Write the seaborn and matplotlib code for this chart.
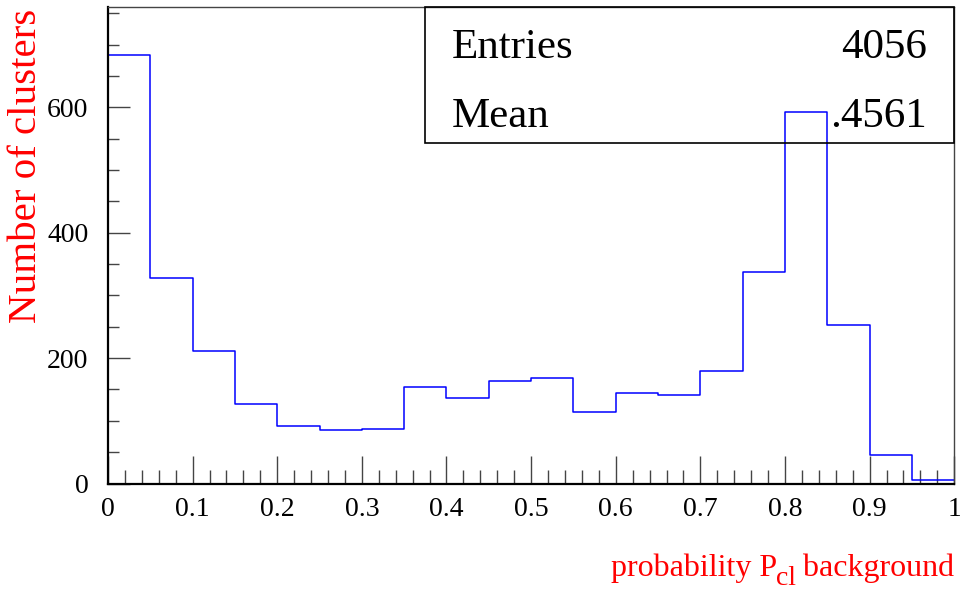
import numpy as np
import pandas as pd
import matplotlib
matplotlib.use("Agg")
import matplotlib.pyplot as plt
from matplotlib.ticker import MultipleLocator
import seaborn as sns

# Histogram of cluster background probability: 20 bins on [0, 1]
bin_edges = [round(0.05 * i, 2) for i in range(21)]
counts = [683, 328, 212, 127, 91, 86, 87, 154, 136, 164,
          169, 114, 144, 141, 179, 337, 593, 253, 46, 6]
stats_labels = ["Entries", "Mean"]
stats_values = ["4056", ".4561"]

# x label pieces: main text, subscript, trailing text
x_label_parts = ["probability P", "cl", " background"]
y_label = "Number of clusters"

sns.set_theme(style="ticks")
plt.rcParams["font.family"] = ["Liberation Serif", "DejaVu Serif"]

df = pd.DataFrame({
    "center": [(bin_edges[i] + bin_edges[i + 1]) / 2 for i in range(len(counts))],
    "count": counts,
})

W, H = 960, 594
fig = plt.figure(figsize=(W / 100, H / 100), dpi=100)
ax = fig.add_axes([0.1125, 0.186, 0.8815, 0.802])

sns.histplot(data=df, x="center", weights="count", bins=bin_edges,
             element="step", fill=False, color="#0000ff", linewidth=1.1, ax=ax)

ax.set_xlim(0, 1)
ax.set_ylim(0, 760)

ax.xaxis.set_minor_locator(MultipleLocator(0.02))
ax.yaxis.set_major_locator(MultipleLocator(200))
ax.yaxis.set_minor_locator(MultipleLocator(50))
ax.set_xticks([0.1 * i for i in range(11)])
ax.set_xticklabels(["0", "0.1", "0.2", "0.3", "0.4", "0.5", "0.6",
                    "0.7", "0.8", "0.9", "1"])

ax.tick_params(axis="x", which="major", direction="in", length=20, width=1,
               labelsize=20, pad=10, color="#444444", labelcolor="black")
ax.tick_params(axis="x", which="minor", direction="in", length=10, width=1,
               color="#444444")
ax.tick_params(axis="y", which="major", direction="in", length=16, width=1,
               labelsize=20, pad=14, color="#444444", labelcolor="black")
ax.tick_params(axis="y", which="minor", direction="in", length=8, width=1,
               color="#444444")

for side in ["left", "bottom"]:
    ax.spines[side].set_linewidth(1.6)
    ax.spines[side].set_color("black")
for side in ["top", "right"]:
    ax.spines[side].set_visible(True)
    ax.spines[side].set_linewidth(1.0)
    ax.spines[side].set_color("#444444")

ax.set_xlabel("")
ax.set_ylabel("")

# x label assembled right-to-left so the subscript sits low at near full size
fig.canvas.draw()
renderer = fig.canvas.get_renderer()
right_px = 954
base_px = H - 576
t3 = fig.text(right_px / W, base_px / H, x_label_parts[2], ha="right",
              va="baseline", color="red", fontsize=23)
left3 = t3.get_window_extent(renderer).x0
t2 = fig.text((left3 + 1) / W, (base_px - 9) / H, x_label_parts[1],
              ha="right", va="baseline", color="red", fontsize=20)
left2 = t2.get_window_extent(renderer).x0
fig.text((left2 + 1) / W, base_px / H, x_label_parts[0], ha="right",
         va="baseline", color="red", fontsize=23)

fig.text(0.008, 0.986, y_label, ha="left", va="top", rotation=90,
         color="red", fontsize=29.5)

# Statistics box in the top-right corner
box = plt.Rectangle((425 / W, 1 - 143 / H), (954 - 425) / W,
                    (143 - 7) / H, transform=fig.transFigure,
                    fill=False, edgecolor="black", linewidth=1.2)
fig.add_artist(box)
for i, (lab, val) in enumerate(zip(stats_labels, stats_values)):
    yb = 1 - (58 + 69 * i) / H
    fig.text(452 / W, yb, lab, ha="left", va="baseline", fontsize=31,
             color="black")
    fig.text(927 / W, yb, val, ha="right", va="baseline", fontsize=31,
             color="black")

fig.savefig("out.png", dpi=100)
